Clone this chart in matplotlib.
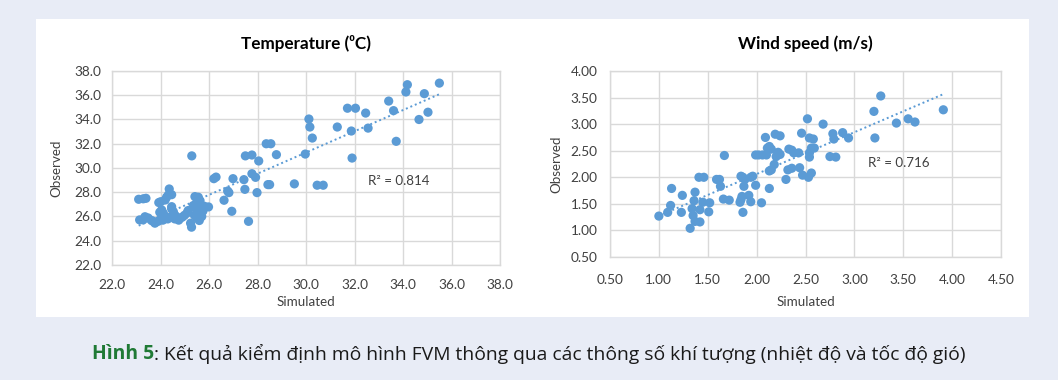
import numpy as np
import matplotlib
matplotlib.use("Agg")
import matplotlib.pyplot as plt

# ---------------- data ----------------
temp_sim = [35.50, 34.18, 34.12, 34.88, 33.41, 33.61, 35.03, 34.66, 33.72, 31.71, 32.04, 32.46,
            32.56, 31.29, 31.87, 31.90, 30.12, 30.16, 30.26, 29.97, 29.52, 30.46, 30.71, 28.36,
            28.55, 28.78, 28.43, 28.50, 28.05, 27.50, 27.77, 27.77, 27.92, 27.44, 27.48, 27.98,
            27.63, 26.99, 26.94, 26.77, 26.82, 26.62, 26.20, 26.29, 25.98, 25.29,
            23.10, 23.29, 23.40, 23.14, 23.28, 23.36, 23.49, 23.63, 23.77, 23.70,
            23.93, 23.97, 24.01, 24.19, 24.25, 24.36, 24.46, 24.32,
            23.90, 24.00, 24.10, 24.20, 24.30, 24.40, 24.05, 24.12,
            24.46, 24.53, 24.46, 24.59, 24.70, 24.80, 24.90, 24.99, 25.10, 25.14, 24.60, 24.75,
            25.24, 25.28, 25.42, 25.56, 25.35, 25.48, 25.56, 25.63, 25.66, 25.60, 25.40, 25.52,
            25.70, 25.75, 25.80, 25.45]
temp_obs = [37.00, 36.87, 36.27, 36.13, 35.52, 34.73, 34.60, 34.00, 32.20, 34.93, 34.93, 34.53,
            33.29, 33.38, 33.05, 30.82, 34.04, 33.38, 32.47, 31.15, 28.69, 28.58, 28.58, 32.00,
            32.00, 31.10, 28.63, 28.63, 30.58, 31.00, 31.07, 29.53, 29.23, 29.04, 28.24, 27.97,
            25.60, 29.12, 26.43, 28.10, 27.97, 27.34, 29.12, 29.25, 26.79, 31.00,
            27.42, 27.46, 27.50, 25.72, 25.72, 25.98, 25.88, 25.67, 25.45, 25.60,
            27.15, 26.35, 27.22, 27.36, 27.59, 28.27, 27.80, 27.77,
            25.60, 25.75, 25.70, 25.85, 25.80, 25.95, 26.54, 26.26,
            26.81, 26.40, 26.63, 25.80, 25.90, 25.85, 25.95, 26.10, 26.30, 26.49, 26.10, 25.70,
            25.45, 25.12, 27.64, 27.59, 26.90, 27.09, 26.63, 27.31, 26.35, 25.67, 26.10, 25.85,
            26.00, 26.45, 26.85, 26.70]

wind_sim = [3.27, 3.20, 3.21, 3.43, 3.55, 3.62, 3.91,
            2.68, 2.52, 2.46, 2.78, 2.79, 2.88, 2.94, 2.75, 2.81,
            2.54, 2.58, 2.56, 2.59, 2.54, 2.54, 2.56, 2.53, 2.47, 2.44,
            2.43, 2.38, 2.36, 2.33, 2.36, 2.32, 2.30,
            2.24, 2.22, 2.20, 2.24, 2.19, 2.09,
            2.13, 2.11, 2.15, 2.10, 2.06, 2.02, 1.99,
            2.18, 2.15, 2.13, 2.13, 2.05, 1.99, 1.96, 1.94,
            1.88, 1.86, 1.84, 1.87, 1.92, 1.85, 1.84, 1.83, 1.94, 1.86,
            1.67, 1.59, 1.62, 1.63, 1.66, 1.72,
            1.41, 1.46, 1.37, 1.35, 1.32, 1.37, 1.42, 1.36, 1.34,
            1.42, 1.45, 1.51, 1.52, 1.13, 1.24, 1.23, 1.12, 1.09, 1.00]
wind_obs = [3.53, 3.24, 2.74, 3.02, 3.10, 3.04, 3.27,
            3.00, 3.10, 2.83, 2.82, 2.72, 2.84, 2.74, 2.39, 2.38,
            2.74, 2.72, 2.55, 2.55, 2.46, 2.38, 2.08, 2.00, 2.04, 2.18,
            2.46, 2.46, 2.51, 2.53, 2.17, 2.14, 1.96,
            2.43, 2.47, 2.39, 2.78, 2.81, 2.75,
            2.58, 2.55, 2.53, 2.42, 2.42, 2.42, 2.42,
            2.24, 2.14, 2.12, 1.79, 1.52, 1.85, 2.02, 2.00,
            1.96, 2.00, 2.02, 1.83, 1.66, 1.64, 1.58, 1.53, 1.54, 1.34,
            2.41, 1.96, 1.96, 1.83, 1.59, 1.57,
            2.00, 2.00, 1.72, 1.28, 1.04, 1.17, 1.16, 1.56, 1.41,
            1.39, 1.53, 1.35, 1.52, 1.79, 1.66, 1.34, 1.47, 1.34, 1.27]

temp_ticks = [22.0, 24.0, 26.0, 28.0, 30.0, 32.0, 34.0, 36.0, 38.0]
wind_ticks = [0.50, 1.00, 1.50, 2.00, 2.50, 3.00, 3.50, 4.00, 4.50]
wind_yticks = [0.50, 1.00, 1.50, 2.00, 2.50, 3.00, 3.50, 4.00]
temp_r2 = "R² = 0.814"
wind_r2 = "R² = 0.716"
caption_bold = "Hình 5"
caption_rest = ": Kết quả kiểm định mô hình FVM thông qua các thông số khí tượng (nhiệt độ và tốc độ gió)"

# ---------------- style ----------------
BG = "#E8ECF6"
DOT = "#5B9BD5"
GRID = "#D9D9D9"
TXT = "#404040"
FONT = ["Lato", "DejaVu Sans"]
plt.rcParams["font.family"] = FONT

fig = plt.figure(figsize=(10.58, 3.80), dpi=100)
fig.patch.set_facecolor(BG)

# white panel behind the charts
panel = plt.Rectangle((36 / 1058, 1 - 317 / 380), (1029 - 36) / 1058, (317 - 19) / 380,
                      transform=fig.transFigure, facecolor="white", edgecolor="none", zorder=-10)
fig.patches.append(panel)

TICK_FS = 9.8
LAB_FS = 9.6
TITLE_FS = 12.3
MS = 44


def style_axes(ax, xpad, ypad):
    ax.set_zorder(1)
    ax.set_facecolor("white")
    for s in ax.spines.values():
        s.set_color(GRID)
        s.set_linewidth(1.0)
    ax.grid(True, color=GRID, linewidth=1.0)
    ax.set_axisbelow(True)
    ax.tick_params(length=0, labelsize=TICK_FS, labelcolor=TXT)
    ax.tick_params(axis="x", pad=xpad)
    ax.tick_params(axis="y", pad=ypad)


# left: temperature
ax1 = fig.add_axes([112 / 1058, 1 - 265 / 380, 388 / 1058, 194 / 380])
style_axes(ax1, 10, 7.5)
ax1.set_xlim(22, 38)
ax1.set_ylim(22, 38)
ax1.set_xticks(temp_ticks)
ax1.set_yticks(temp_ticks)
ax1.set_xticklabels([f"{t:.1f}" for t in temp_ticks])
ax1.set_yticklabels([f"{t:.1f}" for t in temp_ticks])
ax1.scatter(temp_sim, temp_obs, s=MS, color=DOT, edgecolors="none", zorder=3)
c1 = np.polyfit(temp_sim, temp_obs, 1)
xs1 = np.array([min(temp_sim), max(temp_sim)])
ax1.plot(xs1, np.polyval(c1, xs1), linestyle=(0, (1, 1.5)), color=DOT, linewidth=1.4, zorder=2)
ax1.text(32.55, 28.9, temp_r2, fontsize=9.6, color=TXT, va="center", ha="left")
ax1.set_xlabel("Simulated", fontsize=LAB_FS, color=TXT, labelpad=4)
ax1.set_ylabel("Observed", fontsize=LAB_FS, color=TXT, labelpad=9)
ax1.set_title("Temperature (⁰C)", fontsize=TITLE_FS, fontweight="bold", color="black", pad=16)

# right: wind speed
ax2 = fig.add_axes([610 / 1058, 1 - 257 / 380, 391 / 1058, 186 / 380])
style_axes(ax2, 12.5, 9)
ax2.set_xlim(0.5, 4.5)
ax2.set_ylim(0.5, 4.0)
ax2.set_xticks(wind_ticks)
ax2.set_yticks(wind_yticks)
ax2.set_xticklabels([f"{t:.2f}" for t in wind_ticks])
ax2.set_yticklabels([f"{t:.2f}" for t in wind_yticks])
ax2.scatter(wind_sim, wind_obs, s=MS, color=DOT, edgecolors="none", zorder=3)
c2 = np.polyfit(wind_sim, wind_obs, 1)
xs2 = np.array([min(wind_sim), max(wind_sim)])
ax2.plot(xs2, np.polyval(c2, xs2), linestyle=(0, (1, 1.5)), color=DOT, linewidth=1.4, zorder=2)
ax2.text(3.14, 2.27, wind_r2, fontsize=9.6, color=TXT, va="center", ha="left")
ax2.set_xlabel("Simulated", fontsize=LAB_FS, color=TXT, labelpad=7)
ax2.set_ylabel("Observed", fontsize=LAB_FS, color=TXT, labelpad=6)
ax2.set_title("Wind speed (m/s)", fontsize=TITLE_FS, fontweight="bold", color="black", pad=15.5)

# caption with two colours, sized to span ~870 px centred at x=529
cap_font = ["Open Sans", "Lato", "DejaVu Sans"]
cy = 1 - 354 / 380
t1 = fig.text(0, cy, caption_bold, fontsize=12, fontweight="bold", color="#1F7A35",
              family=cap_font, va="center", ha="left")
t2 = fig.text(0, cy, caption_rest, fontsize=12, color="#1A1A1A", family=cap_font,
              va="center", ha="left")
fig.canvas.draw()
r = fig.canvas.get_renderer()
w = t1.get_window_extent(r).width + t2.get_window_extent(r).width
fs = 12 * 870 / w
t1.set_fontsize(fs)
t2.set_fontsize(fs)
fig.canvas.draw()
w1 = t1.get_window_extent(r).width
w2 = t2.get_window_extent(r).width
W = fig.bbox.width
x0 = (529 - (w1 + w2) / 2) / W
t1.set_x(x0)
t2.set_x(x0 + w1 / W)

fig.savefig("out.png", dpi=100, facecolor=BG)
